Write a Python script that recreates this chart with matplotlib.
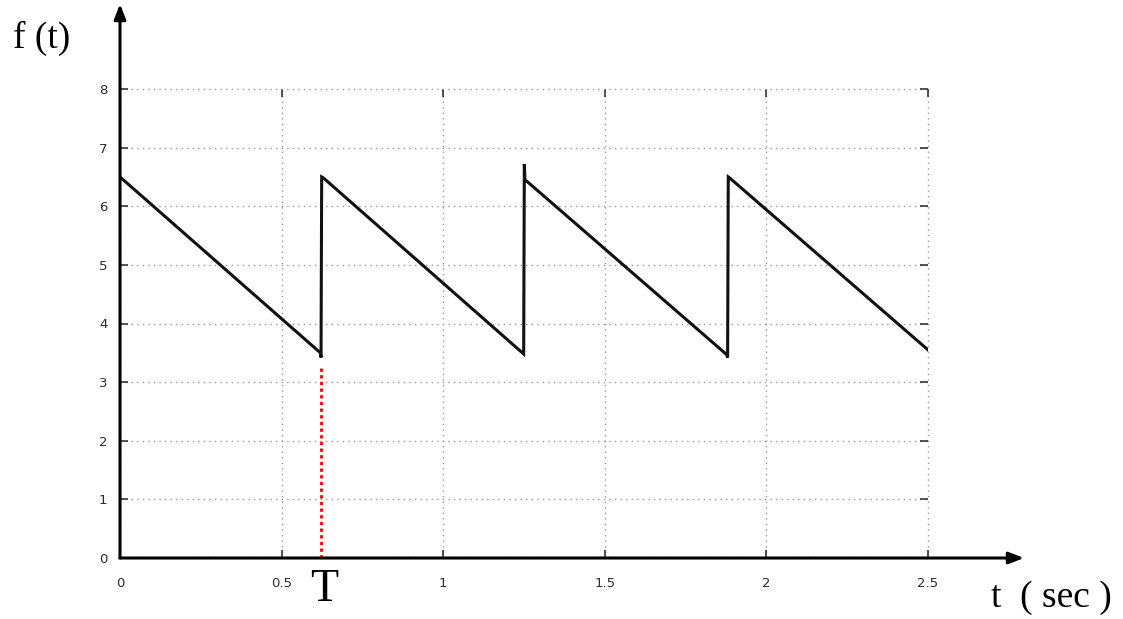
import matplotlib
matplotlib.use("Agg")
import matplotlib.pyplot as plt

# Sawtooth data
t = [0.0, 0.620, 0.622, 0.624, 0.630, 1.249, 1.251, 1.253, 1.258, 1.877, 1.880, 1.882, 1.887, 2.5]
f = [6.50, 3.50, 3.42, 6.50, 6.48, 3.48, 6.72, 6.45, 6.43, 3.47, 3.42, 6.50, 6.48, 3.55]

period_T = 0.622
period_line_top = 3.3

xticks = [0, 0.5, 1, 1.5, 2, 2.5]
xtick_labels = ["0", "0.5", "1", "1.5", "2", "2.5"]
yticks = [0, 1, 2, 3, 4, 5, 6, 7, 8]
ytick_labels = [str(v) for v in yticks]

W, H = 1123, 619
fig = plt.figure(figsize=(W / 100, H / 100), dpi=100)
x0, x1 = 120, 928
y0, y1 = 558, 89
ax = fig.add_axes([x0 / W, (H - y0) / H, (x1 - x0) / W, (y0 - y1) / H])
ax.set_xlim(0, 2.5)
ax.set_ylim(0, 8)

for s in ax.spines.values():
    s.set_visible(False)

ax.set_xticks(xticks)
ax.set_xticklabels(xtick_labels)
ax.set_yticks(yticks)
ax.set_yticklabels(ytick_labels)
ax.tick_params(direction="in", length=6, width=1.2, color="#333333",
               top=True, right=True, labelsize=9.5, labelcolor="#2a2a40")
ax.tick_params(axis="y", pad=9)
ax.tick_params(axis="x", pad=14)
ax.grid(True, linestyle=(0, (1, 3)), color="#999999", linewidth=1)
for gl in ax.get_xgridlines() + ax.get_ygridlines():
    gl.set_clip_on(False)
ax.set_axisbelow(True)

ax.plot(t, f, color="#111111", linewidth=2.2, solid_joinstyle="miter", zorder=3)
ax.plot([period_T, period_T], [0, period_line_top], color="red", linewidth=2,
        linestyle=(0, (1.2, 1.2)), zorder=2)

# axis arrows
xa_end = (1024 - x0) / (x1 - x0)
ya_end = (y0 - 4) / (y0 - y1)
ax.annotate("", xy=(xa_end, 0), xytext=(0, 0), xycoords="axes fraction",
            arrowprops=dict(arrowstyle="-|>,head_length=0.9,head_width=0.35",
                            color="black", lw=2.2, shrinkA=0, shrinkB=0),
            annotation_clip=False, zorder=5)
ax.annotate("", xy=(0, ya_end), xytext=(0, 0), xycoords="axes fraction",
            arrowprops=dict(arrowstyle="-|>,head_length=0.9,head_width=0.35",
                            color="black", lw=2.2, shrinkA=0, shrinkB=0),
            annotation_clip=False, zorder=5)

serif = ["Liberation Serif", "DejaVu Serif"]
fig.text(13 / W, 1 - 38 / H, "f (t)", fontsize=27, family=serif, ha="left", va="center")
fig.text(324 / W, 1 - 590 / H, "T", fontsize=33, family=serif, ha="center", va="center")
fig.text(991 / W, 1 - 598 / H, "t  ( sec )", fontsize=27, family=serif, ha="left", va="center")

fig.savefig("out.png", dpi=100)
